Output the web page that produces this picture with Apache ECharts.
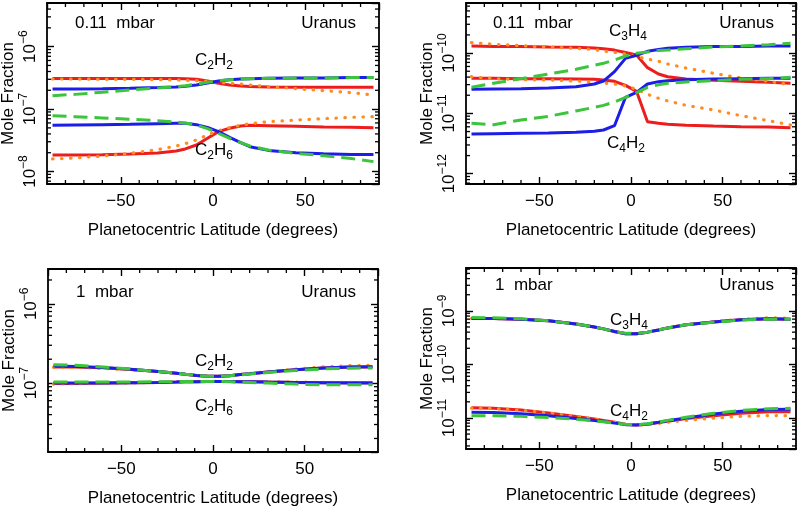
<!DOCTYPE html>
<html>
<head>
<meta charset="utf-8">
<script src="https://cdn.jsdelivr.net/npm/echarts@6/dist/echarts.min.js"></script>
<style>
  html, body { margin: 0; padding: 0; background: #fff; }
  #chart { width: 800px; height: 506px; }
</style>
</head>
<body>
<div id="chart"></div>
<script>
// latitudes shared by every curve (degrees)
const latitudes = [-87, -75, -60, -45, -30, -20, -15, -9, -3, 3, 9, 15, 20, 30, 45, 60, 75, 87];

// 0.11 mbar, C2H2 / C2H6
const c2h2TopRed = [3.10e-7, 3.10e-7, 3.10e-7, 3.10e-7, 3.10e-7, 3.10e-7, 3.07e-7, 3.00e-7, 2.82e-7, 2.59e-7, 2.43e-7, 2.34e-7, 2.29e-7, 2.26e-7, 2.23e-7, 2.23e-7, 2.23e-7, 2.23e-7];
const c2h2TopOrange = [3.03e-7, 3.03e-7, 3.00e-7, 3.00e-7, 2.96e-7, 2.93e-7, 2.89e-7, 2.86e-7, 2.79e-7, 2.69e-7, 2.59e-7, 2.52e-7, 2.43e-7, 2.29e-7, 2.12e-7, 1.97e-7, 1.83e-7, 1.68e-7];
const c2h2TopBlue = [2.10e-7, 2.10e-7, 2.12e-7, 2.15e-7, 2.21e-7, 2.26e-7, 2.32e-7, 2.43e-7, 2.62e-7, 2.82e-7, 2.96e-7, 3.03e-7, 3.07e-7, 3.11e-7, 3.15e-7, 3.15e-7, 3.19e-7, 3.19e-7];
const c2h2TopGreen = [1.64e-7, 1.72e-7, 1.86e-7, 2.02e-7, 2.18e-7, 2.29e-7, 2.37e-7, 2.49e-7, 2.69e-7, 2.86e-7, 2.96e-7, 3.03e-7, 3.07e-7, 3.11e-7, 3.15e-7, 3.15e-7, 3.19e-7, 3.19e-7];
const c2h6TopRed = [1.84e-8, 1.84e-8, 1.86e-8, 1.91e-8, 1.98e-8, 2.13e-8, 2.30e-8, 2.66e-8, 3.40e-8, 4.35e-8, 4.92e-8, 5.36e-8, 5.50e-8, 5.43e-8, 5.30e-8, 5.17e-8, 5.10e-8, 5.04e-8];
const c2h6TopOrange = [1.59e-8, 1.65e-8, 1.77e-8, 1.95e-8, 2.24e-8, 2.56e-8, 2.79e-8, 3.20e-8, 3.85e-8, 4.51e-8, 5.04e-8, 5.50e-8, 5.84e-8, 6.29e-8, 6.69e-8, 7.03e-8, 7.38e-8, 7.56e-8];
const c2h6TopBlue = [5.50e-8, 5.56e-8, 5.63e-8, 5.70e-8, 5.84e-8, 5.91e-8, 5.91e-8, 5.63e-8, 5.10e-8, 4.35e-8, 3.53e-8, 2.90e-8, 2.50e-8, 2.18e-8, 2.00e-8, 1.93e-8, 1.88e-8, 1.88e-8];
const c2h6TopGreen = [7.85e-8, 7.56e-8, 7.20e-8, 6.86e-8, 6.53e-8, 6.21e-8, 5.99e-8, 5.56e-8, 4.86e-8, 4.09e-8, 3.40e-8, 2.90e-8, 2.56e-8, 2.21e-8, 1.95e-8, 1.79e-8, 1.61e-8, 1.44e-8];

// 0.11 mbar, C3H4 / C4H2
const c3h4TopRed = [1.31e-10, 1.29e-10, 1.28e-10, 1.26e-10, 1.25e-10, 1.21e-10, 1.18e-10, 1.12e-10, 1.02e-10, 9.29e-11, 5.73e-11, 4.50e-11, 4.06e-11, 3.72e-11, 3.53e-11, 3.40e-11, 3.27e-11, 3.15e-11];
const c3h4TopOrange = [1.49e-10, 1.40e-10, 1.33e-10, 1.26e-10, 1.20e-10, 1.14e-10, 1.08e-10, 1.03e-10, 9.66e-11, 8.72e-11, 7.97e-11, 7.30e-11, 6.59e-11, 5.66e-11, 4.62e-11, 3.86e-11, 3.40e-11, 2.99e-11];
const c3h4TopBlue = [2.51e-11, 2.54e-11, 2.57e-11, 2.64e-11, 2.77e-11, 3.07e-11, 3.44e-11, 4.92e-11, 8.18e-11, 9.18e-11, 1.07e-10, 1.15e-10, 1.20e-10, 1.25e-10, 1.28e-10, 1.29e-10, 1.31e-10, 1.31e-10];
const c3h4TopGreen = [2.71e-11, 3.15e-11, 3.77e-11, 4.50e-11, 5.38e-11, 6.26e-11, 6.76e-11, 7.68e-11, 8.94e-11, 9.90e-11, 1.04e-10, 1.10e-10, 1.12e-10, 1.18e-10, 1.26e-10, 1.31e-10, 1.38e-10, 1.45e-10];
const c4h2TopRed = [3.81e-11, 3.81e-11, 3.77e-11, 3.77e-11, 3.72e-11, 3.67e-11, 3.58e-11, 3.40e-11, 2.92e-11, 2.32e-11, 7.29e-12, 6.85e-12, 6.59e-12, 6.34e-12, 6.18e-12, 6.03e-12, 5.95e-12, 5.80e-12];
const c4h2TopOrange = [4.06e-11, 3.77e-11, 3.62e-11, 3.58e-11, 3.44e-11, 3.32e-11, 3.19e-11, 3.07e-11, 2.85e-11, 2.51e-11, 2.07e-11, 1.78e-11, 1.61e-11, 1.36e-11, 1.14e-11, 9.17e-12, 7.58e-12, 6.43e-12];
const c4h2TopBlue = [4.56e-12, 4.62e-12, 4.68e-12, 4.73e-12, 4.86e-12, 5.05e-12, 5.31e-12, 6.26e-12, 1.85e-11, 2.23e-11, 3.07e-11, 3.36e-11, 3.49e-11, 3.62e-11, 3.72e-11, 3.77e-11, 3.81e-11, 3.81e-11];
const c4h2TopGreen = [6.85e-12, 6.50e-12, 7.78e-12, 8.94e-12, 1.10e-11, 1.26e-11, 1.36e-11, 1.55e-11, 1.85e-11, 2.21e-11, 2.71e-11, 2.99e-11, 3.15e-11, 3.32e-11, 3.49e-11, 3.67e-11, 3.77e-11, 3.96e-11];

// 1 mbar, C2H2 / C2H6
const c2h2LowRed = [1.60e-7, 1.60e-7, 1.56e-7, 1.48e-7, 1.40e-7, 1.33e-7, 1.29e-7, 1.25e-7, 1.22e-7, 1.22e-7, 1.24e-7, 1.28e-7, 1.31e-7, 1.38e-7, 1.47e-7, 1.55e-7, 1.59e-7, 1.60e-7];
const c2h2LowOrange = [1.58e-7, 1.57e-7, 1.53e-7, 1.47e-7, 1.39e-7, 1.33e-7, 1.29e-7, 1.25e-7, 1.22e-7, 1.22e-7, 1.24e-7, 1.28e-7, 1.32e-7, 1.40e-7, 1.50e-7, 1.60e-7, 1.66e-7, 1.68e-7];
const c2h2LowBlue = [1.64e-7, 1.62e-7, 1.57e-7, 1.49e-7, 1.40e-7, 1.33e-7, 1.29e-7, 1.25e-7, 1.22e-7, 1.22e-7, 1.24e-7, 1.28e-7, 1.31e-7, 1.38e-7, 1.47e-7, 1.55e-7, 1.60e-7, 1.61e-7];
const c2h2LowGreen = [1.70e-7, 1.68e-7, 1.60e-7, 1.50e-7, 1.40e-7, 1.33e-7, 1.29e-7, 1.25e-7, 1.22e-7, 1.22e-7, 1.24e-7, 1.27e-7, 1.30e-7, 1.36e-7, 1.44e-7, 1.51e-7, 1.54e-7, 1.55e-7];
const c2h6LowRed = [0.99e-7, 0.99e-7, 1.00e-7, 1.01e-7, 1.02e-7, 1.03e-7, 1.04e-7, 1.04e-7, 1.05e-7, 1.05e-7, 1.05e-7, 1.04e-7, 1.04e-7, 1.03e-7, 1.02e-7, 1.01e-7, 1.01e-7, 1.01e-7];
const c2h6LowOrange = [0.97e-7, 0.98e-7, 0.99e-7, 1.00e-7, 1.02e-7, 1.03e-7, 1.04e-7, 1.05e-7, 1.05e-7, 1.05e-7, 1.05e-7, 1.05e-7, 1.04e-7, 1.04e-7, 1.03e-7, 1.02e-7, 1.02e-7, 1.02e-7];
const c2h6LowBlue = [1.00e-7, 1.00e-7, 1.00e-7, 1.01e-7, 1.02e-7, 1.03e-7, 1.04e-7, 1.04e-7, 1.05e-7, 1.05e-7, 1.05e-7, 1.04e-7, 1.04e-7, 1.03e-7, 1.02e-7, 1.01e-7, 1.00e-7, 1.00e-7];
const c2h6LowGreen = [1.03e-7, 1.03e-7, 1.03e-7, 1.03e-7, 1.04e-7, 1.04e-7, 1.05e-7, 1.05e-7, 1.05e-7, 1.05e-7, 1.04e-7, 1.03e-7, 1.02e-7, 1.00e-7, 0.97e-7, 0.95e-7, 0.95e-7, 0.95e-7];

// 1 mbar, C3H4 / C4H2
const c3h4LowRed = [7.2e-10, 7.2e-10, 7.0e-10, 6.5e-10, 5.7e-10, 5.0e-10, 4.6e-10, 4.1e-10, 3.75e-10, 3.75e-10, 4.0e-10, 4.4e-10, 4.8e-10, 5.5e-10, 6.2e-10, 6.8e-10, 7.1e-10, 7.0e-10];
const c3h4LowOrange = [7.2e-10, 7.2e-10, 7.0e-10, 6.5e-10, 5.7e-10, 5.0e-10, 4.6e-10, 4.1e-10, 3.75e-10, 3.75e-10, 4.0e-10, 4.4e-10, 4.8e-10, 5.5e-10, 6.3e-10, 7.0e-10, 7.4e-10, 7.3e-10];
const c3h4LowBlue = [7.2e-10, 7.2e-10, 7.0e-10, 6.5e-10, 5.7e-10, 5.0e-10, 4.6e-10, 4.1e-10, 3.75e-10, 3.75e-10, 4.0e-10, 4.4e-10, 4.8e-10, 5.5e-10, 6.2e-10, 6.8e-10, 7.1e-10, 7.0e-10];
const c3h4LowGreen = [7.5e-10, 7.4e-10, 7.1e-10, 6.5e-10, 5.7e-10, 5.0e-10, 4.6e-10, 4.1e-10, 3.8e-10, 3.8e-10, 4.0e-10, 4.4e-10, 4.8e-10, 5.5e-10, 6.1e-10, 6.7e-10, 7.0e-10, 7.0e-10];
const c4h2LowRed = [1.55e-11, 1.52e-11, 1.40e-11, 1.24e-11, 1.06e-11, 0.96e-11, 0.90e-11, 0.83e-11, 0.76e-11, 0.74e-11, 0.76e-11, 0.82e-11, 0.87e-11, 0.98e-11, 1.10e-11, 1.22e-11, 1.30e-11, 1.30e-11];
const c4h2LowOrange = [1.52e-11, 1.50e-11, 1.39e-11, 1.24e-11, 1.06e-11, 0.96e-11, 0.90e-11, 0.83e-11, 0.76e-11, 0.74e-11, 0.75e-11, 0.79e-11, 0.83e-11, 0.90e-11, 0.99e-11, 1.07e-11, 1.11e-11, 1.10e-11];
const c4h2LowBlue = [1.28e-11, 1.27e-11, 1.20e-11, 1.10e-11, 0.98e-11, 0.90e-11, 0.86e-11, 0.80e-11, 0.75e-11, 0.74e-11, 0.77e-11, 0.83e-11, 0.89e-11, 1.00e-11, 1.18e-11, 1.33e-11, 1.43e-11, 1.45e-11];
const c4h2LowGreen = [1.10e-11, 1.10e-11, 1.07e-11, 1.02e-11, 0.95e-11, 0.88e-11, 0.85e-11, 0.80e-11, 0.76e-11, 0.75e-11, 0.78e-11, 0.84e-11, 0.90e-11, 1.03e-11, 1.22e-11, 1.38e-11, 1.48e-11, 1.51e-11];

const xTickValues = [-50, 0, 50];
const xMinorTicks = [-80, -70, -60, -40, -30, -20, -10, 10, 20, 30, 40, 60, 70, 80];

const FONT = '"Liberation Sans", Arial, sans-serif';
const FS = 17;
const colors = { red: '#ee1d1d', orange: '#ff8c1e', blue: '#1d1de8', green: '#3cc43c' };

const panels = [
  { grid: { left: 47, top: 3, width: 332, height: 181 }, yMin: 6.31e-9, yMax: 5.0e-6,
    pressure: '0.11  mbar', pressureAt: [75, 23], uranusAt: [356, 23],
    curves: [[c2h2TopRed, c2h2TopOrange, c2h2TopBlue, c2h2TopGreen], [c2h6TopRed, c2h6TopOrange, c2h6TopBlue, c2h6TopGreen]],
    labels: [['C{s|2}H{s|2}', 214, 60], ['C{s|2}H{s|6}', 214, 150]] },
  { grid: { left: 466, top: 3, width: 330, height: 181 }, yMin: 6.76e-13, yMax: 6.76e-10,
    pressure: '0.11  mbar', pressureAt: [493, 23], uranusAt: [774, 23],
    curves: [[c3h4TopRed, c3h4TopOrange, c3h4TopBlue, c3h4TopGreen], [c4h2TopRed, c4h2TopOrange, c4h2TopBlue, c4h2TopGreen]],
    labels: [['C{s|3}H{s|4}', 628, 31], ['C{s|4}H{s|2}', 626, 143]] },
  { grid: { left: 48, top: 269, width: 330, height: 183 }, yMin: 1.35e-8, yMax: 2.75e-6,
    pressure: '1  mbar', pressureAt: [76, 292], uranusAt: [356, 292],
    curves: [[c2h2LowRed, c2h2LowOrange, c2h2LowBlue, c2h2LowGreen], [c2h6LowRed, c2h6LowOrange, c2h6LowBlue, c2h6LowGreen]],
    labels: [['C{s|2}H{s|2}', 214, 361], ['C{s|2}H{s|6}', 214, 406]] },
  { grid: { left: 466, top: 268, width: 330, height: 181 }, yMin: 2.63e-12, yMax: 6.31e-9,
    pressure: '1  mbar', pressureAt: [495, 285], uranusAt: [774, 285],
    curves: [[c3h4LowRed, c3h4LowOrange, c3h4LowBlue, c3h4LowGreen], [c4h2LowRed, c4h2LowOrange, c4h2LowBlue, c4h2LowGreen]],
    labels: [['C{s|3}H{s|4}', 629, 320], ['C{s|4}H{s|2}', 629, 411]] }
];

const lineStyles = [
  { color: colors.red, width: 3, type: 'solid' },
  { color: colors.orange, width: 3.2, type: [0.5, 8.5], cap: 'round' },
  { color: colors.blue, width: 3, type: 'solid' },
  { color: colors.green, width: 3, type: [14, 7] }
];

const expLabel = v => {
  const e = Math.log10(v);
  const r = Math.round(e);
  if (Math.abs(e - r) > 1e-6) return '';
  return '10{s|\u2212' + (-r) + '}';
};
const latLabel = v => {
  if (!xTickValues.includes(v)) return '';
  return v < 0 ? '\u2212' + (-v) : String(v);
};

const tickStyle = { color: '#000', width: 1.4 };
const grids = [], xAxes = [], yAxes = [], series = [], graphics = [];

const renderMinorTick = (params, api) => {
  const cs = params.coordSys;
  const p = api.coord([api.value(0), api.value(1)]);
  const st = { stroke: '#000', lineWidth: 1.3 };
  const len = 4;
  if (api.value(2) === 0) {
    return { type: 'group', children: [
      { type: 'line', shape: { x1: cs.x, y1: p[1], x2: cs.x + len, y2: p[1] }, style: st },
      { type: 'line', shape: { x1: cs.x + cs.width - len, y1: p[1], x2: cs.x + cs.width, y2: p[1] }, style: st }
    ] };
  }
  return { type: 'group', children: [
    { type: 'line', shape: { x1: p[0], y1: cs.y + cs.height, x2: p[0], y2: cs.y + cs.height - len }, style: st },
    { type: 'line', shape: { x1: p[0], y1: cs.y, x2: p[0], y2: cs.y + len }, style: st }
  ] };
};

panels.forEach((pn, i) => {
  grids.push(Object.assign({ outerBoundsMode: 'none', containLabel: false }, pn.grid));
  const xBase = {
    gridIndex: i, type: 'value', min: -90, max: 90, minInterval: 50, maxInterval: 50,
    axisLine: { show: true, onZero: false, lineStyle: { color: '#000', width: 1.8 } },
    axisTick: { show: true, inside: true, length: 7, lineStyle: tickStyle },
    splitLine: { show: false }
  };
  xAxes.push(Object.assign({}, xBase, {
    position: 'bottom',
    name: 'Planetocentric Latitude (degrees)', nameLocation: 'middle', nameGap: 38,
    nameTextStyle: { fontSize: FS, fontFamily: FONT, color: '#000' },
    axisLabel: { formatter: latLabel, margin: 9, fontSize: FS, fontFamily: FONT, color: '#000',
      showMinLabel: false, showMaxLabel: false }
  }));
  xAxes.push(Object.assign({}, xBase, { position: 'top', axisLabel: { show: false } }));
  const yBase = {
    gridIndex: i, type: 'log', logBase: 10, min: pn.yMin, max: pn.yMax,
    axisLine: { show: true, onZero: false, lineStyle: { color: '#000', width: 1.8 } },
    axisTick: { show: true, inside: true, length: 7, lineStyle: tickStyle },
    splitLine: { show: false }
  };
  yAxes.push(Object.assign({}, yBase, {
    position: 'left',
    name: 'Mole Fraction', nameLocation: 'middle', nameGap: 30, nameRotate: 90,
    nameTextStyle: { fontSize: FS, fontFamily: FONT, color: '#000' },
    axisLabel: { formatter: expLabel, rotate: 90, margin: 5, fontSize: FS, fontFamily: FONT, color: '#000',
      lineHeight: 24, showMinLabel: false, showMaxLabel: false,
      rich: { s: { fontSize: 12, fontFamily: FONT, color: '#000', verticalAlign: 'top', lineHeight: 24 } } }
  }));
  yAxes.push(Object.assign({}, yBase, { position: 'right', axisLabel: { show: false } }));

  pn.curves.forEach(group => {
    group.forEach((vals, k) => {
      series.push({
        type: 'line', xAxisIndex: 2 * i, yAxisIndex: 2 * i,
        data: latitudes.map((lat, j) => [lat, vals[j]]),
        symbol: 'none', smooth: false, z: 2 + k,
        lineStyle: lineStyles[k], silent: true
      });
    });
  });

  // minor ticks (log decades on y, every 10 degrees on x)
  const tickData = [];
  const lo = Math.floor(Math.log10(pn.yMin)), hi = Math.ceil(Math.log10(pn.yMax));
  for (let d = lo; d < hi; d++) {
    for (let m = 2; m <= 9; m++) {
      const v = m * Math.pow(10, d);
      if (v > pn.yMin && v < pn.yMax) tickData.push([0, v, 0]);
    }
  }
  xMinorTicks.forEach(x => tickData.push([x, pn.yMax / 2, 1]));
  series.push({ type: 'custom', xAxisIndex: 2 * i, yAxisIndex: 2 * i, data: tickData,
    renderItem: renderMinorTick, silent: true, z: 10 });

  const txt = { fontSize: FS, fontFamily: FONT, fill: '#000' };
  graphics.push({ type: 'text', x: pn.pressureAt[0], y: pn.pressureAt[1],
    style: Object.assign({ text: pn.pressure, align: 'left', verticalAlign: 'middle' }, txt) });
  graphics.push({ type: 'text', x: pn.uranusAt[0], y: pn.uranusAt[1],
    style: Object.assign({ text: 'Uranus', align: 'right', verticalAlign: 'middle' }, txt) });
  pn.labels.forEach(([t, x, y]) => {
    graphics.push({ type: 'text', x: x, y: y, z: 20,
      style: Object.assign({ text: t, align: 'center', verticalAlign: 'middle', lineHeight: 24,
        rich: { s: { fontSize: 12, fontFamily: FONT, fill: '#000', verticalAlign: 'bottom', lineHeight: 24 } } }, txt) });
  });
});

const chart = echarts.init(document.getElementById('chart'), null, { renderer: 'canvas' });
chart.setOption({
  backgroundColor: '#fff',
  animation: false,
  textStyle: { fontFamily: FONT },
  grid: grids,
  xAxis: xAxes,
  yAxis: yAxes,
  series: series,
  graphic: graphics
});
</script>
</body>
</html>
